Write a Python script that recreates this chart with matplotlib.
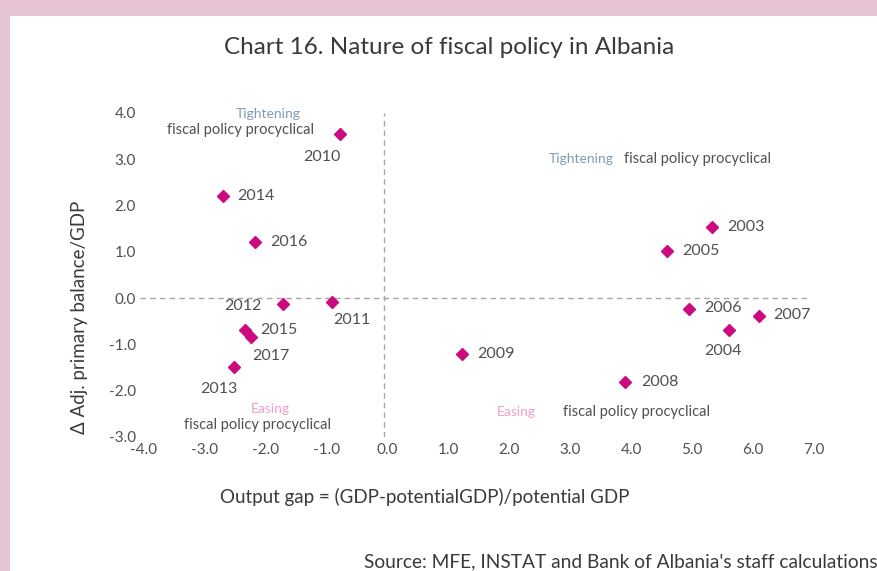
import matplotlib
matplotlib.use("Agg")
import matplotlib.pyplot as plt
from matplotlib.patches import Rectangle
from matplotlib.transforms import ScaledTranslation

plt.rcParams['font.family'] = ['Lato', 'DejaVu Sans']

# Data: (output gap, change in adjusted primary balance / GDP)
years = ["2003", "2004", "2005", "2006", "2007", "2008", "2009", "2010",
         "2011", "2012", "2013", "2014", "2015", "2016", "2017"]
output_gap = [5.39, 5.67, 4.65, 5.02, 6.16, 3.97, 1.28, -0.72,
              -0.84, -1.66, -2.46, -2.64, -2.27, -2.12, -2.17]
balance_change = [1.53, -0.69, 1.02, -0.24, -0.39, -1.81, -1.21, 3.54,
                  -0.09, -0.13, -1.49, 2.20, -0.69, 1.21, -0.84]
x_ticks = [-4, -3, -2, -1, 0, 1, 2, 3, 4, 5, 6, 7]
y_ticks = [-3, -2, -1, 0, 1, 2, 3, 4]

# label offsets in points (dx, dy) and alignment
label_pos = {
    "2003": ((11, 0), "left", "center"),
    "2004": ((-4, -15), "center", "center"),
    "2005": ((11, 0), "left", "center"),
    "2006": ((11, 1), "left", "center"),
    "2007": ((10, 1), "left", "center"),
    "2008": ((11, 0), "left", "center"),
    "2009": ((11, 0), "left", "center"),
    "2010": ((-13, -16), "center", "center"),
    "2011": ((14, -13), "center", "center"),
    "2012": ((-15, -1), "right", "center"),
    "2013": ((-11, -16), "center", "center"),
    "2014": ((10, 0), "left", "center"),
    "2015": ((11, 0), "left", "center"),
    "2016": ((11, 0), "left", "center"),
    "2017": ((14, -14), "center", "center"),
}

W, H = 878, 571
fig = plt.figure(figsize=(W / 100, H / 100), dpi=100)
fig.patch.set_facecolor("#e6c3d4")
fig.patches.append(Rectangle((10 / W, 0), 1 - 10 / W, 1 - 16 / H,
                             transform=fig.transFigure, facecolor="white",
                             edgecolor="none", zorder=-10))

ax = fig.add_axes([140 / W, (H - 437) / H, 670 / W, 324 / H])
ax.set_facecolor("none")
ax.set_xlim(-4, 7)
ax.set_ylim(-3, 4)
for s in ax.spines.values():
    s.set_visible(False)

text_col = "#505050"
ax.axhline(0, color="#a6a6a6", lw=1, ls=(0, (4, 3)), zorder=1)
ax.axvline(0, color="#a6a6a6", lw=1, ls=(0, (4, 3)), zorder=1)

ax.plot(output_gap, balance_change, ls="none", marker="D", ms=6.3,
        color="#cc0a80", mec="#cc0a80", zorder=3)

for yr, xv, yv in zip(years, output_gap, balance_change):
    (dx, dy), ha, va = label_pos[yr]
    ax.annotate(yr, (xv, yv), xytext=(dx, dy), textcoords="offset points",
                ha=ha, va=va, fontsize=11.5, color=text_col)

ax.set_xticks(x_ticks)
ax.set_xticklabels([f"{v:.1f}" for v in x_ticks])
ax.set_yticks(y_ticks)
ax.set_yticklabels([f"{v:.1f}" for v in y_ticks])
ax.tick_params(length=0, labelsize=11, colors=text_col)
ax.tick_params(axis="x", pad=4)
ax.tick_params(axis="y", pad=3)
off = ScaledTranslation(4 / 100, 0, fig.dpi_scale_trans)
for lab in ax.get_xticklabels():
    lab.set_transform(lab.get_transform() + off)

# quadrant annotations
tight_col = "#7f9db5"
ease_col = "#f19fc8"
fs_q = 10
fs_f = 10.5
ax.text(-1.9, 3.98, "Tightening", color=tight_col, fontsize=fs_q, ha="center", va="center")
ax.text(-2.35, 3.63, "fiscal policy procyclical", color=text_col, fontsize=fs_f, ha="center", va="center")
ax.text(2.71, 3.0, "Tightening", color=tight_col, fontsize=fs_q, ha="left", va="center")
ax.text(3.95, 3.0, "fiscal policy procyclical", color=text_col, fontsize=fs_f, ha="left", va="center")
ax.text(-1.86, -2.4, "Easing", color=ease_col, fontsize=fs_q, ha="center", va="center")
ax.text(-2.07, -2.75, "fiscal policy procyclical", color=text_col, fontsize=fs_f, ha="center", va="center")
ax.text(1.85, -2.47, "Easing", color=ease_col, fontsize=fs_q, ha="left", va="center")
ax.text(2.94, -2.47, "fiscal policy procyclical", color=text_col, fontsize=fs_f, ha="left", va="center")

fig.text(449 / W, 1 - 47 / H, "Chart 16. Nature of fiscal policy in Albania",
         ha="center", va="center", fontsize=17.5, color="#3a3a3a")
fig.text(425 / W, 1 - 497 / H, "Output gap = (GDP-potentialGDP)/potential GDP",
         ha="center", va="center", fontsize=13.5, color="#3a3a3a")
fig.text(80 / W, 1 - 317 / H, "\u0394 Adj. primary balance/GDP", rotation=90,
         ha="center", va="center", fontsize=13.5, color="#3a3a3a")
fig.text(1.0, 1 - 562 / H, "Source: MFE, INSTAT and Bank of Albania's staff calculations",
         ha="right", va="center", fontsize=13.8, color="#3a3a3a")

fig.savefig("out.png", dpi=100, facecolor=fig.get_facecolor())
